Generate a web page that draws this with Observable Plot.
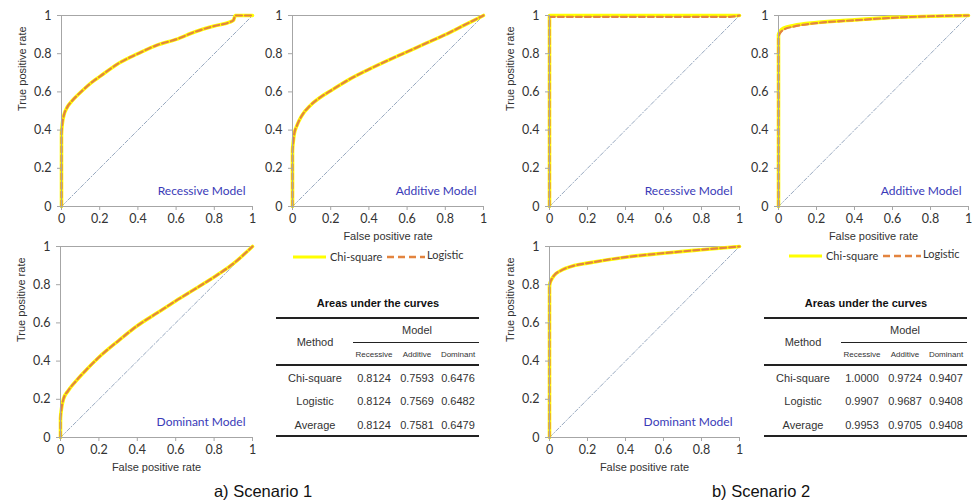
<!DOCTYPE html>
<html><head><meta charset="utf-8">
<script src="https://cdn.jsdelivr.net/npm/d3@7"></script>
<script src="https://cdn.jsdelivr.net/npm/@observablehq/plot@0.6"></script>
<style>
body{margin:0;background:#fff;}
#root{position:relative;width:977px;height:500px;overflow:hidden;font-family:"Liberation Sans",Arial,sans-serif;background:#fff;}
.abs{position:absolute;white-space:nowrap;}
.c{position:absolute;transform:translate(-50%,-50%);white-space:nowrap;}
</style></head><body><div id="root"></div>
<script>
// ---------- DATA ----------
const axisTicks = [0, 0.2, 0.4, 0.6, 0.8, 1];
const chanceLine = [0, 1];
const modelNames = ["Recessive", "Additive", "Dominant"];
const methods = ["Chi-square", "Logistic", "Average"];
const aucScenario1 = [[0.8124, 0.7593, 0.6476], [0.8124, 0.7569, 0.6482], [0.8124, 0.7581, 0.6479]];
const aucScenario2 = [[1.0000, 0.9724, 0.9407], [0.9907, 0.9687, 0.9408], [0.9953, 0.9705, 0.9408]];
const seriesNames = ["Chi-square", "Logistic"];
const scenarioCaptions = ["a) Scenario 1", "b) Scenario 2"];

// Scenario 1 - Recessive
const s1RecFpr = [0, 0, 0.005, 0.012, 0.03, 0.056, 0.1, 0.17, 0.2, 0.3, 0.4, 0.5, 0.6, 0.7, 0.8, 0.88, 0.9, 0.91, 0.95, 1];
const s1RecTpr = [0, 0.38, 0.44, 0.476, 0.52, 0.554, 0.598, 0.659, 0.68, 0.75, 0.8, 0.845, 0.875, 0.915, 0.945, 0.965, 0.975, 1, 1, 1];
// Scenario 1 - Additive
const s1AddFpr = [0, 0, 0.004, 0.009, 0.023, 0.049, 0.092, 0.145, 0.2, 0.3, 0.4, 0.5, 0.6, 0.7, 0.8, 0.9, 1];
const s1AddTpr = [0, 0.29, 0.34, 0.38, 0.423, 0.476, 0.528, 0.571, 0.606, 0.667, 0.718, 0.765, 0.81, 0.855, 0.9, 0.95, 1];
// Scenario 1 - Dominant
const s1DomFpr = [0, 0, 0.005, 0.015, 0.04, 0.08, 0.13, 0.2, 0.3, 0.4, 0.5, 0.6, 0.7, 0.8, 0.9, 1];
const s1DomTpr = [0, 0.1, 0.15, 0.2, 0.245, 0.295, 0.35, 0.42, 0.505, 0.585, 0.65, 0.715, 0.777, 0.84, 0.91, 1];
// Scenario 2 - Recessive
const s2RecChiFpr = [0, 0, 1];
const s2RecChiTpr = [0, 1, 1];
const s2RecLogFpr = [0, 0, 0.95, 1];
const s2RecLogTpr = [0, 0.993, 0.993, 1];
// Scenario 2 - Additive
const s2AddFpr = [0, 0, 0.004, 0.01, 0.03, 0.08, 0.2, 0.4, 0.6, 0.8, 1];
const s2AddChiTpr = [0, 0.9, 0.91, 0.92, 0.935, 0.948, 0.963, 0.977, 0.99, 0.996, 1];
const s2AddLogTpr = [0, 0.89, 0.9, 0.91, 0.927, 0.942, 0.96, 0.975, 0.988, 0.996, 1];
// Scenario 2 - Dominant
const s2DomFpr = [0, 0, 0.003, 0.007, 0.024, 0.06, 0.13, 0.2, 0.4, 0.6, 0.8, 1];
const s2DomTpr = [0, 0.79, 0.81, 0.82, 0.848, 0.874, 0.9, 0.913, 0.944, 0.965, 0.983, 1];

// ---------- STYLE ----------
const yellow = "#ffff00";
const orange = "#e3843f";
const diagColor = "#98a9c0";
const axisColor = "#a6a6a6";
const modelColor = "#3a3ab8";
const tickFont = "Lato";

const root = document.getElementById("root");
const zip = (xs, ys) => xs.map((x, i) => ({fpr: x, tpr: ys[i]}));

const ML = 60, MR = 14, MT = 10, MB = 42;

function rocPanel(p) {
  const w = p.x1 - p.x0, h = p.yBot - p.yTop;
  const marks = [
    Plot.ruleY([1], {stroke: axisColor, strokeWidth: 1}),
    Plot.line(chanceLine, {x: d => d, y: d => d, stroke: diagColor, strokeWidth: 1, strokeDasharray: "4,2,1,2"}),
    Plot.line(p.chi, {x: "fpr", y: "tpr", stroke: yellow, strokeWidth: 3.6, curve: "monotone-x"}),
    Plot.line(p.log, {x: "fpr", y: "tpr", stroke: orange, strokeWidth: 2.2, strokeDasharray: "6,3", curve: "monotone-x"}),
    Plot.ruleX([0], {stroke: axisColor}),
    Plot.ruleY([0], {stroke: axisColor}),
    Plot.axisX({ticks: axisTicks, tickSize: 4, tickPadding: 4, stroke: axisColor, tickFormat: d => String(d), label: null, fontSize: 12.5, fill: "#333"}),
    Plot.axisY({ticks: axisTicks, tickSize: 4, tickPadding: 6, stroke: axisColor, tickFormat: d => String(d), label: null, fontSize: 12.5, fill: "#333"}),
    Plot.text([p.model + " Model"], {frameAnchor: "bottom-right", dx: -7, dy: -12, fill: modelColor, fontSize: 12, fontFamily: tickFont})
  ];
  if (p.showY) marks.push(Plot.text(["True positive rate"], {frameAnchor: "left", rotate: -90, dx: -39, fill: "#333", fontSize: 11, fontFamily: "Liberation Sans"}));
  if (p.showX) marks.push(Plot.text(["False positive rate"], {frameAnchor: "bottom", dy: 33, fill: "#333", fontSize: 11, fontFamily: "Liberation Sans"}));
  const svg = Plot.plot({
    width: w + ML + MR, height: h + MT + MB,
    marginLeft: ML, marginRight: MR, marginTop: MT, marginBottom: MB,
    x: {domain: [0, 1], axis: null},
    y: {domain: [0, 1], axis: null},
    style: {fontFamily: tickFont, background: "transparent", overflow: "visible"},
    marks
  });
  svg.style.position = "absolute";
  svg.style.left = (p.x0 - ML) + "px";
  svg.style.top = (p.yTop - MT) + "px";
  root.appendChild(svg);
}

const panels = [
  {x0: 61, x1: 252, yTop: 15, yBot: 206, model: modelNames[0], showY: true, showX: false, chi: zip(s1RecFpr, s1RecTpr), log: zip(s1RecFpr, s1RecTpr)},
  {x0: 292, x1: 483, yTop: 15, yBot: 206, model: modelNames[1], showY: false, showX: true, chi: zip(s1AddFpr, s1AddTpr), log: zip(s1AddFpr, s1AddTpr)},
  {x0: 60, x1: 252, yTop: 246, yBot: 437, model: modelNames[2], showY: true, showX: true, chi: zip(s1DomFpr, s1DomTpr), log: zip(s1DomFpr, s1DomTpr)},
  {x0: 549, x1: 739, yTop: 15, yBot: 206, model: modelNames[0], showY: true, showX: false, chi: zip(s2RecChiFpr, s2RecChiTpr), log: zip(s2RecLogFpr, s2RecLogTpr)},
  {x0: 778, x1: 968, yTop: 15, yBot: 206, model: modelNames[1], showY: false, showX: true, chi: zip(s2AddFpr, s2AddChiTpr), log: zip(s2AddFpr, s2AddLogTpr)},
  {x0: 549, x1: 739, yTop: 246, yBot: 437, model: modelNames[2], showY: true, showX: true, chi: zip(s2DomFpr, s2DomTpr), log: zip(s2DomFpr, s2DomTpr)}
];
panels.forEach(rocPanel);

// ---------- LEGENDS ----------
function el(tag, cls, css, text) {
  const e = document.createElement(tag);
  if (cls) e.className = cls;
  Object.assign(e.style, css || {});
  if (text != null) e.textContent = text;
  root.appendChild(e);
  return e;
}
function swatch(x, y, len, color, width, dash) {
  const ns = "http://www.w3.org/2000/svg";
  const s = document.createElementNS(ns, "svg");
  s.setAttribute("width", len); s.setAttribute("height", 8);
  s.style.position = "absolute"; s.style.left = x + "px"; s.style.top = (y - 4) + "px";
  const l = document.createElementNS(ns, "line");
  l.setAttribute("x1", 0); l.setAttribute("x2", len); l.setAttribute("y1", 4); l.setAttribute("y2", 4);
  l.setAttribute("stroke", color); l.setAttribute("stroke-width", width);
  if (dash) l.setAttribute("stroke-dasharray", dash);
  s.appendChild(l);
  root.appendChild(s);
}
function legend(x, y) {
  swatch(x, y, 33, yellow, 3, null);
  el("div", "abs", {left: (x + 37) + "px", top: (y - 7) + "px", font: "11px Lato", color: "#333"}, seriesNames[0]);
  swatch(x + 94, y, 38, orange, 2.4, "7,4");
  el("div", "abs", {left: (x + 134) + "px", top: (y - 9) + "px", font: "11px Lato", color: "#333"}, seriesNames[1]);
}
legend(293, 257);
legend(789, 256);

// ---------- TABLES ----------
function aucTable(left, auc) {
  const W = 203, txt = "#333";
  el("div", "c", {left: (left + 102) + "px", top: "303px", font: "bold 11px 'Liberation Sans'", color: "#111"}, "Areas under the curves");
  el("div", "abs", {left: left + "px", top: "317px", width: W + "px", height: "2px", background: "#222"});
  el("div", "c", {left: (left + 141) + "px", top: "330px", font: "11px 'Liberation Sans'", color: txt}, "Model");
  el("div", "abs", {left: (left + 77) + "px", top: "342px", width: (W - 77) + "px", height: "1px", background: "#222"});
  el("div", "c", {left: (left + 39) + "px", top: "342px", font: "11px 'Liberation Sans'", color: txt}, "Method");
  const colX = [98, 141, 182];
  modelNames.forEach((m, j) => el("div", "c", {left: (left + colX[j]) + "px", top: "354px", font: "8px 'Liberation Sans'", color: txt}, m));
  el("div", "abs", {left: left + "px", top: "364px", width: W + "px", height: "1.5px", background: "#222"});
  const rowY = [378, 401, 425];
  methods.forEach((m, i) => {
    el("div", "c", {left: (left + 39) + "px", top: rowY[i] + "px", font: "11px 'Liberation Sans'", color: txt}, m);
    auc[i].forEach((v, j) => el("div", "c", {left: (left + colX[j]) + "px", top: rowY[i] + "px", font: "11px 'Liberation Sans'", color: txt}, v.toFixed(4)));
  });
  el("div", "abs", {left: left + "px", top: "435px", width: W + "px", height: "2px", background: "#222"});
}
aucTable(276, aucScenario1);
aucTable(764, aucScenario2);

// ---------- CAPTIONS ----------
el("div", "c", {left: "263px", top: "491px", font: "16.5px 'Liberation Sans'", color: "#111"}, scenarioCaptions[0]);
el("div", "c", {left: "761px", top: "491px", font: "16.5px 'Liberation Sans'", color: "#111"}, scenarioCaptions[1]);
</script></body></html>
